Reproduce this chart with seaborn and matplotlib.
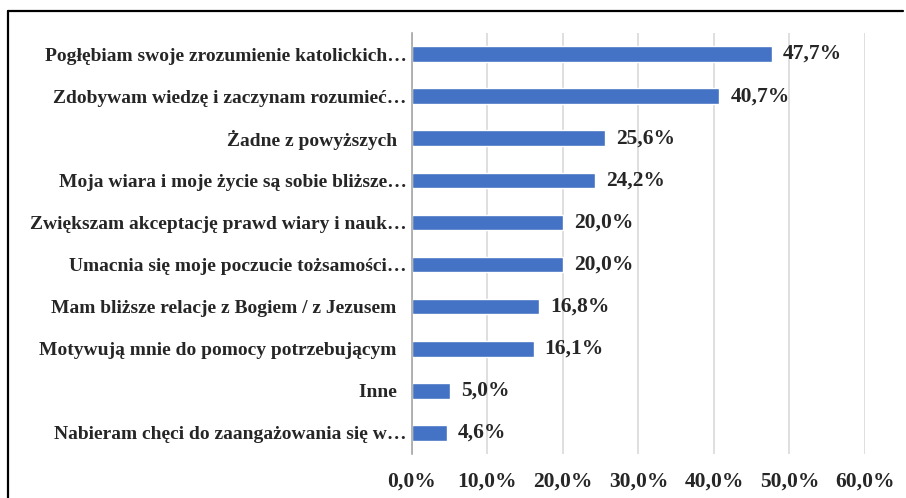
import matplotlib
matplotlib.use("Agg")
import matplotlib.pyplot as plt
from matplotlib.lines import Line2D
import seaborn as sns
import pandas as pd

categories = [
    "Pogłębiam swoje zrozumienie katolickich…",
    "Zdobywam wiedzę i zaczynam rozumieć…",
    "Żadne z powyższych  ",
    "Moja wiara i moje życie są sobie bliższe…",
    "Zwiększam akceptację prawd wiary i nauk…",
    "Umacnia się moje poczucie tożsamości…",
    "Mam bliższe relacje z Bogiem / z Jezusem  ",
    "Motywują mnie do pomocy potrzebującym  ",
    "Inne  ",
    "Nabieram chęci do zaangażowania się w…",
]
values = [47.7, 40.7, 25.6, 24.2, 20.0, 20.0, 16.8, 16.1, 5.0, 4.6]
x_ticks = [0, 10, 20, 30, 40, 50, 60]
x_tick_labels = ["0,0%", "10,0%", "20,0%", "30,0%", "40,0%", "50,0%", "60,0%"]

df = pd.DataFrame({"kategoria": categories, "procent": values})

sns.set_theme(style="white")
plt.rcParams["font.family"] = ["Liberation Serif", "DejaVu Serif"]
plt.rcParams["font.weight"] = "bold"

text_color = "#262626"
cat_size = 14
num_size = 15.5

fig = plt.figure(figsize=(9.06, 4.98), dpi=100)
ax = fig.add_axes([0.4547, 0.0884, 0.5, 0.8453])

sns.barplot(data=df, x="procent", y="kategoria", orient="h",
            color="#4472C4", saturation=1, width=0.37, ax=ax)

ax.set_xlim(0, 60)
ax.set_xticks(x_ticks)
ax.set_xticklabels(x_tick_labels, fontsize=num_size, fontweight="bold",
                   color=text_color)
ax.tick_params(axis="x", length=0, pad=13)
ax.tick_params(axis="y", length=0, pad=4)
for lbl in ax.get_yticklabels():
    lbl.set_fontsize(cat_size)
    lbl.set_fontweight("bold")
    lbl.set_color(text_color)
ax.set_xlabel("")
ax.set_ylabel("")

ax.grid(axis="x", color="#d9d9d9", linewidth=1.2)
ax.set_axisbelow(True)
for side in ["top", "right", "bottom"]:
    ax.spines[side].set_visible(False)
ax.spines["left"].set_color("#a6a6a6")
ax.spines["left"].set_linewidth(1.2)

for container in ax.containers:
    ax.bar_label(container,
                 labels=[f"{v:.1f}%".replace(".", ",") for v in container.datavalues],
                 padding=8, fontsize=num_size, fontweight="bold",
                 color=text_color)

# page frame around the chart
fig.add_artist(Line2D([8 / 906, 903 / 906], [1 - 11 / 498, 1 - 11 / 498],
                      transform=fig.transFigure, color="black", linewidth=1.6))
fig.add_artist(Line2D([8 / 906, 8 / 906], [1 - 11 / 498, 0],
                      transform=fig.transFigure, color="black", linewidth=1.6))

fig.savefig("out.png", dpi=100)
